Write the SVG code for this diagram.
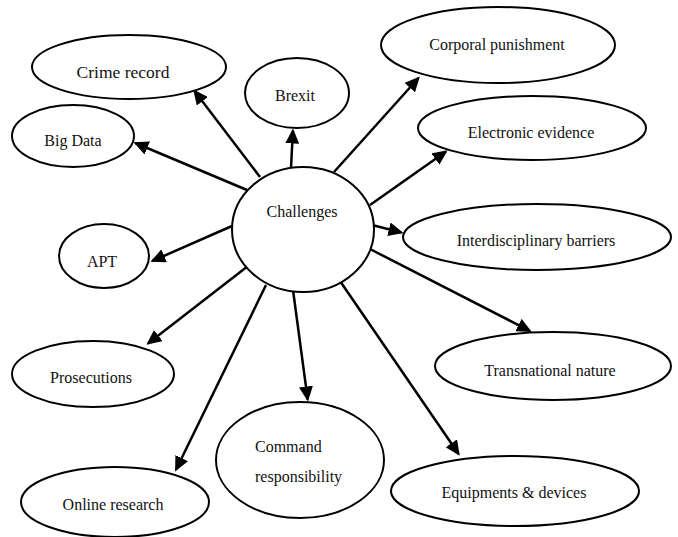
<svg xmlns="http://www.w3.org/2000/svg" width="678" height="537" viewBox="0 0 678 537">
<style>
.n ellipse{fill:#fff;stroke:#000;stroke-width:2}
.n text{font-family:"Liberation Serif","Times New Roman",serif;font-size:16px;fill:#111;text-anchor:middle}
#edges line{stroke:#000;stroke-width:2.5;marker-end:url(#ah)}
</style>
<defs>
<marker id="ah" markerUnits="userSpaceOnUse" markerWidth="16" markerHeight="14" refX="13" refY="7" orient="auto">
<path d="M0,0 L15,7 L0,14 z" fill="#000"/>
</marker>
</defs>
<rect width="678" height="537" fill="#fff"/>
<g id="edges">
<line x1="260" y1="177" x2="194.5" y2="91"/>
<line x1="291" y1="168" x2="292.9" y2="130.5"/>
<line x1="247" y1="190" x2="135.3" y2="143"/>
<line x1="232" y1="226" x2="152.3" y2="261"/>
<line x1="334" y1="172" x2="418.5" y2="78"/>
<line x1="370" y1="205" x2="446" y2="151.5"/>
<line x1="372" y1="225" x2="401.5" y2="232.5"/>
<line x1="368" y1="248" x2="530" y2="331"/>
<line x1="340" y1="281" x2="458.6" y2="454"/>
<line x1="293" y1="290" x2="307.7" y2="399.5"/>
<line x1="266" y1="285" x2="176" y2="469.8"/>
<line x1="248" y1="266" x2="148" y2="343.5"/>
</g>
<g id="crime-record" class="n"><ellipse cx="129" cy="67" rx="97" ry="32"/><text x="123" y="78" style="font-size:17.5px">Crime record</text></g>
<g id="brexit" class="n"><ellipse cx="297" cy="93" rx="52" ry="35"/><text x="295" y="101">Brexit</text></g>
<g id="big-data" class="n"><ellipse cx="73" cy="136" rx="61" ry="31"/><text x="73" y="146">Big Data</text></g>
<g id="apt" class="n"><ellipse cx="104" cy="256" rx="45" ry="32"/><text x="102" y="267">APT</text></g>
<g id="corporal-punishment" class="n"><ellipse cx="498" cy="45" rx="117" ry="38"/><text x="497" y="50">Corporal punishment</text></g>
<g id="electronic-evidence" class="n"><ellipse cx="532" cy="128" rx="114" ry="32"/><text x="531" y="138">Electronic evidence</text></g>
<g id="interdisciplinary-barriers" class="n"><ellipse cx="537" cy="237" rx="134" ry="33"/><text x="536" y="246">Interdisciplinary barriers</text></g>
<g id="transnational-nature" class="n"><ellipse cx="553" cy="366" rx="118" ry="34"/><text x="550" y="376">Transnational nature</text></g>
<g id="equipments-devices" class="n"><ellipse cx="515" cy="491" rx="124" ry="35"/><text x="514" y="498">Equipments &amp; devices</text></g>
<g id="command-responsibility" class="n"><ellipse cx="300" cy="460" rx="84" ry="58"/><text x="255" y="452" style="text-anchor:start">Command</text><text x="255" y="482" style="text-anchor:start">responsibility</text></g>
<g id="online-research" class="n"><ellipse cx="115" cy="502" rx="94" ry="35"/><text x="113" y="510">Online research</text></g>
<g id="prosecutions" class="n"><ellipse cx="93" cy="374" rx="81" ry="33"/><text x="91" y="383">Prosecutions</text></g>
<g id="challenges" class="n"><ellipse cx="303" cy="229.5" rx="71" ry="62.5"/><text x="302" y="217">Challenges</text></g>
</svg>
